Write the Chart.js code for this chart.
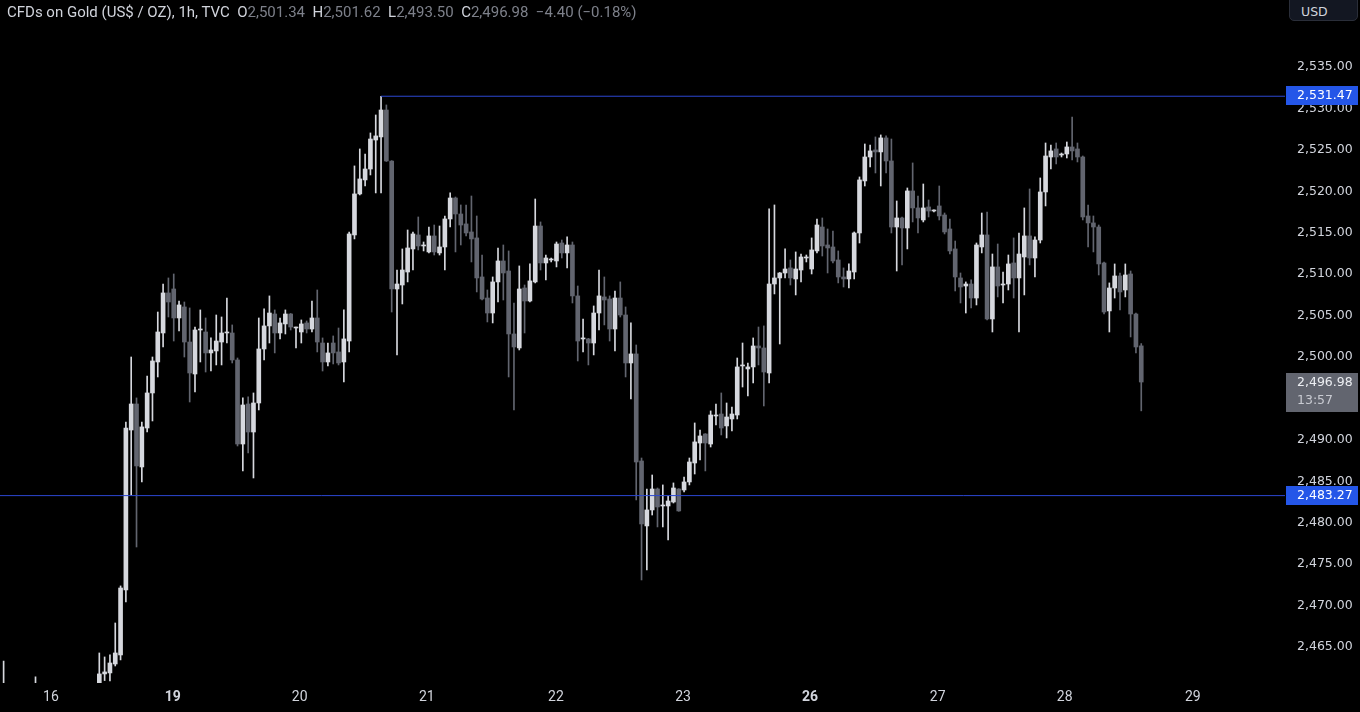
<!DOCTYPE html>
<html>
<head>
<meta charset="utf-8">
<script src="https://cdn.jsdelivr.net/npm/chart.js@4/dist/chart.umd.min.js"></script>
<style>
  html, body { margin: 0; padding: 0; background: #000; }
  #wrap { position: relative; width: 1360px; height: 712px; overflow: hidden; }
  #header {
    position: absolute; left: 7px; top: 3px;
    font-family: "Liberation Sans Narrow", Roboto, sans-serif;
    font-size: 15px; line-height: 18px; color: #d1d4dc; white-space: pre;
  }
  #header .v { color: #7d808a; }
  #usd {
    position: absolute; left: 1289px; top: -6px; width: 69px; height: 27px;
    background: #131722; border: 1px solid #2a2e39; border-radius: 5px;
    font-family: "DejaVu Sans", sans-serif; font-size: 12.5px; color: #d1d4dc;
    box-sizing: border-box; padding: 9px 0 0 11px;
  }
</style>
</head>
<body>
<div id="wrap">
  <canvas id="chart" width="1360" height="712"></canvas>
  <div id="header">CFDs on Gold (US$ / OZ), 1h, TVC  O<span class="v">2,501.34</span>  H<span class="v">2,501.62</span>  L<span class="v">2,493.50</span>  C<span class="v">2,496.98</span>  <span class="v">−4.40 (−0.18%)</span></div>
  <div id="usd">USD</div>
</div>
<script>
// hourly bars, index 0 = first bar on screen (bars before it sit below the visible range)
const firstBar = -18;

const opens = [
  2457.8, 2458.6, 2457.1, 2456.0, 2457.2, 2458.8, 2457.9, 2459.6, 2458.3, 2457.4,
  2458.0, 2459.1, 2458.2, 2458.9, 2459.5, 2459.0, 2459.7, 2459.3,
  2459.60, 2461.75, 2461.87, 2462.95, 2464.04, 2471.88, 2491.19, 2494.33, 2486.73, 2491.43,
  2495.66, 2499.40, 2502.90, 2507.73, 2508.21, 2504.71, 2506.04, 2501.81, 2497.95, 2503.26,
  2503.02, 2500.49, 2500.73, 2501.81, 2502.90, 2502.90, 2499.64, 2489.50, 2494.33, 2490.95,
  2494.45, 2500.97, 2503.75, 2505.19, 2502.90, 2503.99, 2505.19, 2503.50, 2503.02, 2504.11,
  2503.38, 2504.71, 2501.69, 2499.40, 2501.69, 2500.61, 2499.40, 2501.93, 2514.73, 2519.68,
  2521.37, 2522.69, 2526.19, 2526.56, 2529.81, 2523.66, 2508.21, 2508.69, 2510.26, 2513.04,
  2514.73, 2513.40, 2512.68, 2514.61, 2512.56, 2513.28, 2516.66, 2519.19, 2517.26, 2516.06,
  2515.09, 2514.37, 2509.66, 2507.12, 2505.31, 2509.06, 2511.59, 2510.38, 2502.78, 2501.09,
  2508.33, 2506.76, 2509.06, 2515.81, 2511.35, 2511.71, 2511.59, 2513.76, 2512.56, 2513.52,
  2507.37, 2502.18, 2502.18, 2501.69, 2505.31, 2507.25, 2507.00, 2503.38, 2507.12, 2505.07,
  2499.28, 2500.37, 2487.45, 2479.61, 2481.54, 2484.07, 2482.02, 2482.02, 2482.50, 2484.07,
  2483.95, 2484.92, 2487.21, 2489.62, 2490.71, 2489.50, 2492.88, 2493.12, 2491.68, 2492.52,
  2493.00, 2498.92, 2498.56, 2498.80, 2501.33, 2501.09, 2498.07, 2508.81, 2509.54, 2510.14,
  2510.75, 2509.42, 2510.50, 2511.95, 2510.62, 2512.80, 2515.69, 2513.52, 2513.28, 2511.71,
  2509.66, 2509.42, 2510.26, 2514.97, 2521.25, 2524.14, 2524.99, 2524.75, 2526.44, 2523.66,
  2515.69, 2516.78, 2515.57, 2520.04, 2517.99, 2516.54, 2518.11, 2517.62, 2518.23, 2517.14,
  2515.45, 2513.04, 2509.54, 2508.57, 2508.81, 2507.12, 2513.28, 2514.73, 2504.59, 2510.87,
  2508.69, 2508.81, 2511.35, 2509.54, 2512.07, 2514.61, 2511.95, 2514.12, 2519.92, 2524.14,
  2525.11, 2524.38, 2524.50, 2525.35, 2525.11, 2524.14, 2517.02, 2516.18, 2515.69, 2511.35,
  2505.56, 2508.33, 2509.78, 2508.09, 2510.02, 2505.19, 2501.34
];
const highs = [
  2463.3, 2460.2, 2458.9, 2457.8, 2459.5, 2460.1, 2461.4, 2460.3, 2459.1, 2458.6,
  2459.9, 2460.0, 2459.4, 2460.2, 2460.4, 2460.1, 2460.3, 2460.4,
  2464.28, 2463.80, 2464.04, 2467.90, 2472.37, 2492.16, 2500.00, 2495.06, 2492.16, 2497.71,
  2500.00, 2505.43, 2508.81, 2509.54, 2510.02, 2506.76, 2506.64, 2505.92, 2503.62, 2505.68,
  2504.71, 2502.30, 2505.07, 2504.83, 2507.12, 2503.87, 2499.88, 2495.06, 2495.18, 2495.66,
  2504.71, 2505.80, 2507.37, 2505.68, 2504.71, 2505.68, 2505.25, 2503.62, 2504.47, 2504.35,
  2506.76, 2508.09, 2502.30, 2501.69, 2502.54, 2503.50, 2505.68, 2515.09, 2523.06, 2525.11,
  2524.50, 2527.04, 2529.21, 2531.47, 2530.42, 2523.70, 2510.50, 2513.04, 2515.33, 2515.09,
  2516.90, 2513.88, 2515.69, 2515.93, 2515.81, 2517.02, 2519.80, 2519.31, 2518.35, 2518.35,
  2519.43, 2517.02, 2512.31, 2508.09, 2509.66, 2513.16, 2513.52, 2512.80, 2506.52, 2510.99,
  2508.69, 2511.23, 2519.07, 2516.30, 2512.31, 2511.95, 2513.88, 2514.12, 2514.49, 2513.88,
  2508.57, 2504.59, 2502.25, 2506.16, 2510.50, 2509.66, 2507.37, 2507.97, 2509.06, 2506.04,
  2504.11, 2501.45, 2487.81, 2484.07, 2485.76, 2484.19, 2484.56, 2483.23, 2484.80, 2484.10,
  2485.52, 2487.81, 2492.04, 2491.19, 2490.75, 2493.49, 2494.33, 2495.66, 2494.45, 2493.97,
  2499.88, 2501.69, 2499.28, 2502.30, 2503.62, 2503.75, 2517.87, 2518.35, 2510.20, 2513.04,
  2511.71, 2512.68, 2512.43, 2512.31, 2514.37, 2516.66, 2516.78, 2515.45, 2515.21, 2512.80,
  2510.75, 2511.23, 2515.09, 2521.73, 2525.71, 2525.59, 2526.56, 2526.80, 2526.68, 2526.31,
  2518.83, 2516.90, 2520.40, 2523.42, 2519.43, 2520.88, 2518.95, 2517.75, 2520.64, 2517.38,
  2516.66, 2514.00, 2510.14, 2509.06, 2509.30, 2513.76, 2517.38, 2517.50, 2512.43, 2513.64,
  2510.26, 2512.31, 2514.37, 2514.97, 2517.99, 2520.28, 2514.49, 2521.61, 2525.83, 2525.59,
  2525.83, 2524.62, 2525.95, 2528.97, 2525.83, 2524.26, 2518.35, 2517.02, 2515.93, 2511.47,
  2508.94, 2511.23, 2510.14, 2511.23, 2510.38, 2505.31, 2501.62
];
const lows = [
  2455.9, 2456.4, 2455.2, 2454.6, 2456.3, 2457.4, 2457.0, 2457.8, 2456.9, 2456.1,
  2457.2, 2457.7, 2457.3, 2458.0, 2458.6, 2458.2, 2458.9, 2458.7,
  2459.20, 2460.95, 2460.90, 2462.71, 2463.44, 2470.43, 2483.35, 2477.07, 2484.92, 2490.95,
  2492.28, 2497.59, 2501.21, 2504.83, 2501.93, 2503.14, 2500.00, 2494.57, 2495.78, 2499.40,
  2498.19, 2498.31, 2499.04, 2499.04, 2501.69, 2499.28, 2489.26, 2486.25, 2488.42, 2485.40,
  2493.61, 2499.64, 2501.69, 2500.49, 2502.18, 2502.78, 2503.26, 2501.09, 2501.69, 2502.90,
  2503.02, 2500.61, 2498.31, 2498.92, 2499.16, 2499.04, 2496.99, 2500.61, 2514.25, 2519.56,
  2520.64, 2521.97, 2519.80, 2519.80, 2523.60, 2505.43, 2500.25, 2506.40, 2509.06, 2510.50,
  2512.92, 2512.80, 2512.56, 2512.31, 2512.31, 2510.50, 2515.69, 2512.68, 2513.52, 2514.61,
  2511.47, 2507.85, 2506.88, 2504.23, 2504.11, 2506.64, 2506.88, 2497.59, 2493.61, 2500.85,
  2502.90, 2506.64, 2508.94, 2510.50, 2509.30, 2511.47, 2510.87, 2511.95, 2510.75, 2506.52,
  2499.52, 2500.61, 2499.04, 2500.25, 2503.26, 2503.87, 2501.93, 2500.73, 2504.83, 2497.59,
  2494.93, 2482.75, 2473.09, 2474.30, 2480.93, 2479.49, 2479.49, 2477.92, 2482.38, 2481.38,
  2483.71, 2484.56, 2485.88, 2487.57, 2486.25, 2489.14, 2491.80, 2490.59, 2490.23, 2491.07,
  2492.52, 2496.38, 2495.30, 2496.87, 2499.04, 2494.09, 2496.87, 2507.61, 2501.57, 2509.54,
  2508.69, 2507.49, 2509.06, 2511.47, 2510.02, 2512.56, 2512.19, 2510.14, 2511.35, 2508.94,
  2508.45, 2508.33, 2509.42, 2513.76, 2520.64, 2522.93, 2522.21, 2520.64, 2522.21, 2514.97,
  2510.38, 2511.11, 2513.04, 2516.30, 2514.97, 2516.30, 2516.90, 2517.50, 2516.54, 2514.85,
  2512.43, 2507.97, 2506.52, 2505.31, 2505.92, 2506.28, 2512.56, 2504.47, 2503.02, 2507.25,
  2506.52, 2508.09, 2507.12, 2503.02, 2507.49, 2511.11, 2509.66, 2513.76, 2518.23, 2522.69,
  2523.30, 2524.14, 2524.02, 2523.78, 2523.54, 2516.54, 2513.28, 2512.68, 2509.90, 2505.19,
  2503.02, 2507.12, 2505.68, 2507.25, 2502.42, 2500.49, 2493.50
];
const closes = [
  2458.6, 2457.1, 2456.0, 2457.2, 2458.8, 2457.9, 2459.6, 2458.3, 2457.4, 2458.0,
  2459.1, 2458.2, 2458.9, 2459.5, 2459.0, 2459.7, 2459.3, 2459.6,
  2461.75, 2461.99, 2463.07, 2464.28, 2472.12, 2491.43, 2494.33, 2486.85, 2491.56, 2495.66,
  2499.52, 2503.02, 2507.73, 2506.64, 2504.71, 2506.28, 2501.81, 2498.07, 2503.26, 2503.30,
  2500.49, 2500.85, 2501.93, 2502.90, 2502.95, 2499.64, 2489.50, 2494.21, 2490.95, 2494.45,
  2500.97, 2503.75, 2505.31, 2502.90, 2504.11, 2505.19, 2503.62, 2503.55, 2503.99, 2503.38,
  2504.71, 2501.81, 2499.40, 2500.49, 2500.49, 2499.28, 2502.18, 2514.85, 2519.68, 2521.49,
  2522.69, 2526.31, 2526.68, 2529.81, 2523.66, 2508.21, 2508.81, 2510.50, 2513.16, 2514.85,
  2513.40, 2513.45, 2514.61, 2512.68, 2513.28, 2516.66, 2519.19, 2517.26, 2515.93, 2514.97,
  2514.25, 2509.54, 2507.00, 2505.31, 2509.06, 2511.59, 2510.14, 2502.78, 2501.21, 2508.21,
  2506.76, 2509.18, 2515.81, 2511.35, 2511.95, 2511.75, 2513.64, 2512.56, 2513.52, 2507.37,
  2501.93, 2502.22, 2501.69, 2505.31, 2507.37, 2506.88, 2503.38, 2507.12, 2505.07, 2499.28,
  2500.37, 2487.33, 2479.85, 2481.54, 2484.07, 2481.90, 2482.06, 2482.62, 2484.19, 2481.42,
  2484.92, 2487.33, 2489.75, 2490.47, 2489.62, 2493.00, 2492.92, 2491.43, 2492.76, 2493.12,
  2498.80, 2498.96, 2498.80, 2501.33, 2501.09, 2498.19, 2508.81, 2509.54, 2510.14, 2510.62,
  2509.54, 2510.62, 2512.07, 2512.00, 2512.92, 2515.93, 2513.40, 2513.16, 2511.59, 2509.66,
  2509.42, 2510.38, 2514.97, 2521.37, 2524.14, 2524.87, 2524.75, 2526.44, 2523.66, 2515.69,
  2516.78, 2515.57, 2520.04, 2517.99, 2516.78, 2517.99, 2517.62, 2517.66, 2517.02, 2515.09,
  2512.80, 2509.66, 2508.45, 2508.81, 2507.12, 2513.52, 2514.73, 2504.59, 2510.87, 2508.57,
  2508.73, 2511.23, 2509.54, 2512.43, 2514.61, 2511.95, 2514.12, 2519.92, 2524.26, 2524.87,
  2524.14, 2524.42, 2525.35, 2524.87, 2524.14, 2516.90, 2516.18, 2515.69, 2511.23, 2505.43,
  2508.33, 2509.78, 2507.85, 2509.90, 2505.19, 2501.21, 2496.98
];

// x axis: day labels and the bar index where each day label sits
const dayLabels = ['16', '19', '20', '21', '22', '23', '26', '27', '28', '29'];
const dayBars = [-9.1, 13.8, 37.7, 61.6, 85.9, 109.8, 133.7, 157.7, 181.6, 205.7];
const boldDays = ['19', '26'];

// price axis ticks and horizontal levels
const priceTicks = [2465, 2470, 2475, 2480, 2485, 2490, 2495, 2500, 2505, 2510, 2515, 2520, 2525, 2530, 2535];
const resistance = 2531.47;
const resistanceFromBar = 53;
const support = 2483.27;
const countdown = '13:57';

const xMin = -18.68, xMax = 223.04;
const yMin = 2460.655, yMax = 2543.086;

const UP = '#d6d8de';
const DOWN = '#62656f';
const LEVEL = '#2c47d2';
const LEVEL_BOX = '#2456e8';
const AXIS_FONT = '12.5px "DejaVu Sans", sans-serif';

const xs = opens.map((_, i) => firstBar + i);
const colors = opens.map((o, i) => closes[i] >= o ? UP : DOWN);
const fmt = v => v.toLocaleString('en-US', { minimumFractionDigits: 2, maximumFractionDigits: 2 });

const priceBoxes = {
  id: 'priceBoxes',
  afterDraw(chart) {
    const ctx = chart.ctx;
    const y = chart.scales.y;
    const left = chart.chartArea.right + 1;
    ctx.save();
    ctx.font = AXIS_FONT;
    ctx.textBaseline = 'middle';
    [resistance, support].forEach(v => {
      const py = Math.round(y.getPixelForValue(v));
      ctx.fillStyle = LEVEL_BOX;
      ctx.fillRect(left, py - 10, 72, 19);
      ctx.fillStyle = '#ffffff';
      ctx.fillText(fmt(v), left + 11, py);
    });
    const last = closes[closes.length - 1];
    const py = Math.round(y.getPixelForValue(last));
    ctx.fillStyle = '#62656f';
    ctx.fillRect(left, py - 9, 72, 39);
    ctx.fillStyle = '#eceef2';
    ctx.fillText(fmt(last), left + 11, py + 1);
    ctx.fillStyle = '#c9cbd2';
    ctx.fillText(countdown, left + 11, py + 19);
    ctx.restore();
  }
};

new Chart(document.getElementById('chart'), {
  type: 'bar',
  data: {
    datasets: [
      {
        type: 'line',
        data: [{ x: resistanceFromBar, y: resistance }, { x: xMax, y: resistance }],
        borderColor: LEVEL, borderWidth: 1, pointRadius: 0, order: 0
      },
      {
        type: 'line',
        data: [{ x: xMin, y: support }, { x: xMax, y: support }],
        borderColor: LEVEL, borderWidth: 1, pointRadius: 0, order: 0
      },
      {
        // wicks
        data: xs.map((x, i) => ({ x, y: [lows[i], highs[i]] })),
        backgroundColor: colors, barThickness: 1, grouped: false, order: 2
      },
      {
        // bodies
        data: xs.map((x, i) => ({ x, y: [opens[i], closes[i]] })),
        backgroundColor: colors, barThickness: 4, minBarLength: 1, grouped: false, order: 1
      }
    ]
  },
  options: {
    responsive: false,
    animation: false,
    layout: { padding: 0 },
    plugins: { legend: { display: false }, tooltip: { enabled: false } },
    scales: {
      x: {
        type: 'linear', min: xMin, max: xMax, offset: false,
        grid: { display: false, drawTicks: false }, border: { display: false },
        afterBuildTicks: s => { s.ticks = dayBars.map(v => ({ value: v })); },
        afterFit: s => { s.height = 29; s.paddingLeft = 0; s.paddingRight = 0; },
        ticks: {
          autoSkip: false, maxRotation: 0, padding: 6, color: '#d1d4dc',
          font: c => ({ family: '"Liberation Sans Narrow", Roboto, sans-serif', size: 14,
            weight: boldDays.includes(dayLabels[c.index]) ? 'bold' : 'normal' }),
          callback: (v, i) => dayLabels[i]
        }
      },
      y: {
        position: 'right', min: yMin, max: yMax,
        grid: { display: false, drawTicks: false }, border: { display: false },
        afterBuildTicks: s => { s.ticks = priceTicks.map(v => ({ value: v })); },
        afterFit: s => { s.width = 75; s.paddingTop = 0; s.paddingBottom = 0; },
        ticks: {
          padding: 12, color: '#d1d4dc',
          font: { family: '"DejaVu Sans", sans-serif', size: 12.5 },
          callback: v => fmt(v)
        }
      }
    }
  },
  plugins: [priceBoxes]
});
</script>
</body>
</html>
